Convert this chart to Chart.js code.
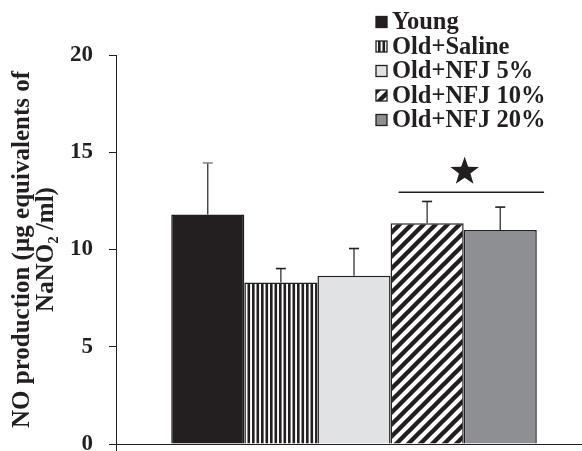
<!DOCTYPE html>
<html>
<head>
<meta charset="utf-8">
<script src="https://cdn.jsdelivr.net/npm/chart.js@4.4.1/dist/chart.umd.min.js"></script>
<style>
  html, body { margin: 0; padding: 0; background: #fff; overflow: hidden; }
  #wrap { position: relative; width: 592px; height: 451px; }
</style>
</head>
<body>
<div id="wrap"><canvas id="chart"></canvas></div>
<script>
// Nitric oxide production per treatment group (mean, upward error)
const groups = ['Young', 'Old+Saline', 'Old+NFJ 5%', 'Old+NFJ 10%', 'Old+NFJ 20%'];
const means = [11.8, 8.3, 8.65, 11.35, 11.0];
const errors = [2.65, 0.72, 1.4, 1.12, 1.18];
const yTicks = [0, 5, 10, 15, 20];
const sigLevel = 12.94;   // height of the significance bracket
const starLevel = 14.0;   // height of the star above it

const INK = '#231f20';
const SERIF = "'Liberation Serif', 'Times New Roman', serif";

function makeVerticalStripes() {
  const c = document.createElement('canvas');
  c.width = 9; c.height = 9;
  const g = c.getContext('2d');
  g.fillStyle = '#fff'; g.fillRect(0, 0, 9, 9);
  g.fillStyle = INK;
  g.fillRect(0, 0, 2.6, 9);
  g.fillRect(4.5, 0, 2.6, 9);
  return g.createPattern(c, 'repeat');
}

function makeDiagonalStripes() {
  const s = 12;
  const c = document.createElement('canvas');
  c.width = s; c.height = s;
  const g = c.getContext('2d');
  g.fillStyle = '#fff'; g.fillRect(0, 0, s, s);
  g.strokeStyle = INK; g.lineWidth = 4.4; g.lineCap = 'square';
  for (const o of [-s, 0, s]) {
    g.beginPath();
    g.moveTo(o, s);
    g.lineTo(o + s, 0);
    g.stroke();
  }
  return g.createPattern(c, 'repeat');
}

const fills = [INK, makeVerticalStripes(), '#e1e2e4', makeDiagonalStripes(), '#8e8f92'];

const datasets = groups.map((name, i) => ({
  label: name,
  data: [means[i]],
  backgroundColor: fills[i],
  borderColor: INK,
  borderWidth: 1.5,
  barPercentage: 1,
  categoryPercentage: 0.768
}));

// Upward error bars with caps, drawn from the error values
const errorBars = {
  id: 'errorBars',
  afterDatasetsDraw(chart) {
    const { ctx, scales: { y } } = chart;
    ctx.save();
    datasets.forEach((ds, i) => {
      const bar = chart.getDatasetMeta(i).data[0];
      const top = y.getPixelForValue(means[i] + errors[i]);
      ctx.strokeStyle = INK;
      ctx.lineWidth = 1.2;
      ctx.beginPath();
      ctx.moveTo(bar.x, bar.y);
      ctx.lineTo(bar.x, top);
      ctx.stroke();
      ctx.strokeStyle = i === 0 ? '#8a8a8a' : INK;
      ctx.lineWidth = 1.6;
      ctx.beginPath();
      ctx.moveTo(bar.x - 5, top);
      ctx.lineTo(bar.x + 5, top);
      ctx.stroke();
    });
    ctx.restore();
  }
};

// Significance bracket over the two highest NFJ doses, with a star
const significance = {
  id: 'significance',
  afterDatasetsDraw(chart) {
    const { ctx, scales: { y } } = chart;
    const a = chart.getDatasetMeta(3).data[0];
    const b = chart.getDatasetMeta(4).data[0];
    const w = b.width;
    const x0 = a.x - 0.39 * w;
    const x1 = b.x + 0.6 * w;
    const ly = y.getPixelForValue(sigLevel);
    ctx.save();
    ctx.strokeStyle = INK;
    ctx.lineWidth = 1.5;
    ctx.beginPath();
    ctx.moveTo(x0, ly);
    ctx.lineTo(x1, ly);
    ctx.stroke();
    const cx = (a.x + b.x) / 2 + 1;
    const cy = y.getPixelForValue(starLevel);
    const R = 15, r = 6;
    ctx.fillStyle = INK;
    ctx.beginPath();
    for (let k = 0; k < 10; k++) {
      const ang = -Math.PI / 2 + k * Math.PI / 5;
      const rad = k % 2 === 0 ? R : r;
      const px = cx + rad * Math.cos(ang);
      const py = cy + rad * Math.sin(ang);
      if (k === 0) ctx.moveTo(px, py); else ctx.lineTo(px, py);
    }
    ctx.closePath();
    ctx.fill();
    ctx.restore();
  }
};

// Legend block in the upper right corner
const legendBlock = {
  id: 'legendBlock',
  afterDraw(chart) {
    const { ctx } = chart;
    const boxX = 376, box = 11, textX = 392;
    const rows = [22, 46.5, 71, 95.5, 120];
    ctx.save();
    ctx.font = `bold 24.5px ${SERIF}`;
    ctx.textBaseline = 'middle';
    ctx.textAlign = 'left';
    chart.data.datasets.forEach((ds, i) => {
      const cy = rows[i];
      ctx.fillStyle = ds.backgroundColor;
      ctx.fillRect(boxX, cy - box / 2, box, box);
      ctx.strokeStyle = INK;
      ctx.lineWidth = 1.3;
      ctx.strokeRect(boxX, cy - box / 2, box, box);
      ctx.fillStyle = INK;
      ctx.fillText(ds.label, textX, cy + 1);
    });
    ctx.restore();
  }
};

new Chart(document.getElementById('chart'), {
  type: 'bar',
  data: { labels: [''], datasets },
  options: {
    responsive: true,
    maintainAspectRatio: false,
    devicePixelRatio: 1,
    animation: false,
    layout: { padding: { top: 55, left: 0, right: 0, bottom: 0 } },
    plugins: { legend: { display: false }, tooltip: { enabled: false } },
    scales: {
      x: {
        ticks: { display: false },
        grid: { display: true, drawOnChartArea: false, drawTicks: true, tickLength: 7, color: INK, lineWidth: 1 },
        border: { display: true, color: INK, width: 1 },
        afterFit(scale) { scale.height = 7; }
      },
      y: {
        min: 0,
        max: 20,
        afterBuildTicks(scale) { scale.ticks = yTicks.map(v => ({ value: v })); },
        ticks: {
          padding: 16,
          color: INK,
          font: { family: SERIF, size: 23, weight: 'bold' }
        },
        grid: { display: true, drawOnChartArea: false, drawTicks: true, tickLength: 7, color: INK, lineWidth: 1 },
        border: { display: true, color: INK, width: 1 },
        title: {
          display: true,
          text: ['NO production (µg equivalents of', 'NaNO₂ /ml)'],
          color: INK,
          font: { family: SERIF, size: 25, weight: 'bold', lineHeight: 0.96 },
          padding: { top: 11, bottom: 0 }
        },
        afterFit(scale) {
          scale.width = 116;
          scale.paddingTop = 0;
          scale.paddingBottom = 0;
        }
      }
    }
  },
  plugins: [errorBars, significance, legendBlock]
});
</script>
</body>
</html>
